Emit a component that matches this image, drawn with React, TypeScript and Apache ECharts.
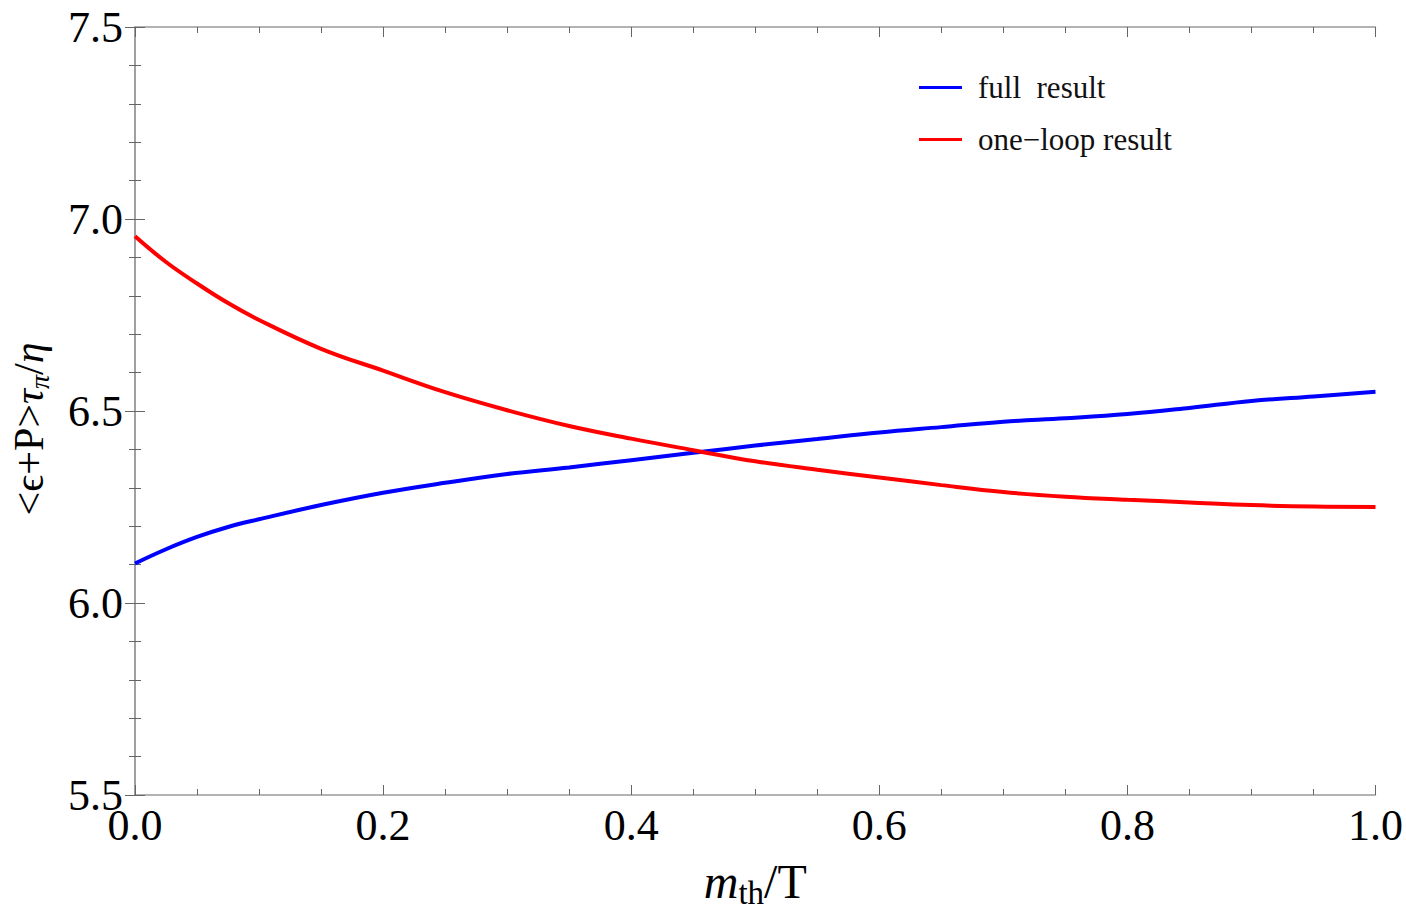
import React, { useEffect, useRef } from "react";
import * as echarts from "echarts";

const xs = [0, 0.025, 0.05, 0.075, 0.1, 0.15, 0.2, 0.25, 0.3, 0.35, 0.4, 0.45, 0.5, 0.55, 0.6, 0.65, 0.7, 0.75, 0.8, 0.85, 0.9, 0.95, 1.0];
const fullResult = [6.103, 6.14, 6.172, 6.198, 6.218, 6.255, 6.287, 6.313, 6.336, 6.353, 6.372, 6.391, 6.41, 6.427, 6.444, 6.458, 6.472, 6.481, 6.492, 6.508, 6.526, 6.538, 6.55];
const oneLoopResult = [6.955, 6.888, 6.832, 6.781, 6.737, 6.662, 6.605, 6.549, 6.502, 6.461, 6.428, 6.398, 6.369, 6.347, 6.327, 6.307, 6.289, 6.277, 6.269, 6.262, 6.255, 6.251, 6.25];
const seriesNames = ["full  result", "one\u2212loop result"];
const xTickFormat = (v: number) => v.toFixed(1);
const yTickFormat = (v: number) => v.toFixed(1);

const SERIF = "'Liberation Serif', 'Times New Roman', 'DejaVu Serif', serif";

export default function App() {
  const ref = useRef<HTMLDivElement>(null);
  useEffect(() => {
    if (!ref.current) return;
    const chart = echarts.init(ref.current, undefined, { renderer: "svg" });
    const axisLine = { show: true, lineStyle: { color: "#9a9a9a", width: 1.5 } };
    const tick = { show: true, inside: true, length: 10, lineStyle: { color: "#666", width: 1 } };
    const xMinor = { show: true, splitNumber: 4, length: 6, lineStyle: { color: "#666", width: 1 } };
    const yMinor = { show: true, splitNumber: 5, length: 6, lineStyle: { color: "#666", width: 1 } };
    chart.setOption({
      animation: false,
      backgroundColor: "#ffffff",
      grid: { left: 130, right: 27, top: 27, bottom: 117, containLabel: false },
      legend: {
        orient: "vertical",
        left: 919,
        top: 72,
        padding: 0,
        itemWidth: 43,
        itemHeight: 3,
        itemGap: 21,
        icon: "rect",
        data: seriesNames,
        textStyle: { fontFamily: SERIF, fontSize: 31, color: "#111", padding: [0, 0, 0, 11] },
      },
      xAxis: [
        {
          type: "value",
          min: 0,
          max: 1,
          interval: 0.2,
          position: "bottom",
          axisLine,
          axisTick: tick,
          minorTick: xMinor,
          splitLine: { show: false },
          axisLabel: { formatter: xTickFormat, fontFamily: SERIF, fontSize: 44, color: "#000", margin: 8 },
          name: "{it|m}{sub|th}{n|/T}",
          nameLocation: "middle",
          nameGap: 58,
          nameTextStyle: {
            fontFamily: SERIF,
            color: "#000",
            rich: {
              it: { fontFamily: SERIF, fontStyle: "italic", fontSize: 48, lineHeight: 56, color: "#000" },
              sub: { fontFamily: SERIF, fontSize: 33, lineHeight: 20, verticalAlign: "bottom", color: "#000" },
              n: { fontFamily: SERIF, fontSize: 48, lineHeight: 56, color: "#000" },
            },
          },
        },
        {
          type: "value",
          min: 0,
          max: 1,
          interval: 0.2,
          position: "top",
          axisLine,
          axisTick: tick,
          minorTick: xMinor,
          splitLine: { show: false },
          axisLabel: { show: false },
        },
      ],
      yAxis: [
        {
          type: "value",
          min: 5.5,
          max: 7.5,
          interval: 0.5,
          position: "left",
          axisLine,
          axisTick: tick,
          minorTick: yMinor,
          splitLine: { show: false },
          axisLabel: { formatter: yTickFormat, fontFamily: SERIF, fontSize: 44, color: "#000", margin: 12 },
          name: "{n|<\u03F5+P>}{it|\u03C4}{sub|\u03C0}{n|/}{it|\u03B7}",
          nameLocation: "middle",
          nameGap: 82,
          nameRotate: 90,
          nameTextStyle: {
            fontFamily: SERIF,
            color: "#000",
            padding: [0, 36, 0, 0],
            rich: {
              n: { fontFamily: SERIF, fontSize: 42, lineHeight: 48, color: "#000" },
              it: { fontFamily: SERIF, fontStyle: "italic", fontSize: 42, lineHeight: 48, color: "#000" },
              sub: { fontFamily: SERIF, fontStyle: "italic", fontSize: 28, lineHeight: 22, verticalAlign: "bottom", color: "#000" },
            },
          },
        },
        {
          type: "value",
          min: 5.5,
          max: 7.5,
          interval: 0.5,
          position: "right",
          axisLine,
          axisTick: tick,
          minorTick: yMinor,
          splitLine: { show: false },
          axisLabel: { show: false },
        },
      ],
      series: [
        {
          name: seriesNames[0],
          type: "line",
          xAxisIndex: 0,
          yAxisIndex: 0,
          data: xs.map((x, i) => [x, fullResult[i]]),
          showSymbol: false,
          smooth: 0.4,
          lineStyle: { color: "#0000ff", width: 4 },
          itemStyle: { color: "#0000ff" },
        },
        {
          name: seriesNames[1],
          type: "line",
          xAxisIndex: 0,
          yAxisIndex: 0,
          data: xs.map((x, i) => [x, oneLoopResult[i]]),
          showSymbol: false,
          smooth: 0.4,
          lineStyle: { color: "#ff0000", width: 4 },
          itemStyle: { color: "#ff0000" },
        },
      ],
    });
    return () => chart.dispose();
  }, []);
  return (
    <div
      ref={ref}
      style={{ position: "absolute", left: 0, top: 0, width: 1406, height: 914, background: "#fff" }}
    />
  );
}
